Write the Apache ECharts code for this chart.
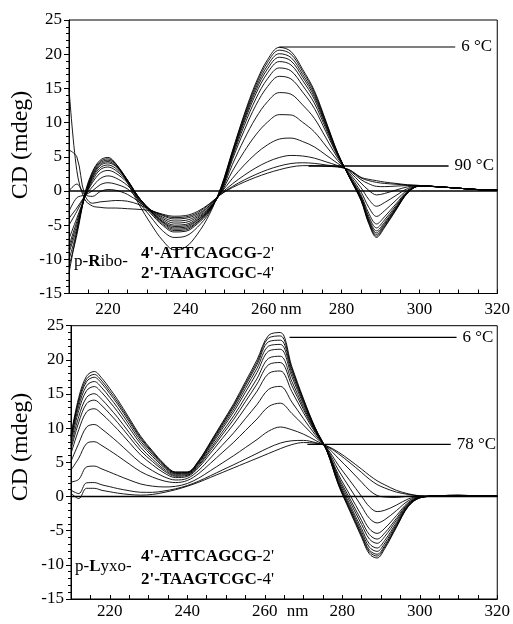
<!DOCTYPE html>
<html><head><meta charset="utf-8">
<script src="https://cdn.jsdelivr.net/npm/echarts@6/dist/echarts.min.js"></script>
<style>html,body{margin:0;padding:0;background:#fff}#c{width:513px;height:624px}</style>
</head><body><div id="c"></div>
<script>
// wavelengths (nm) at which every curve is sampled
const wavelengths = [210,212,214,216,218,220,222,225,228,231,234,237,240,243,246,249,252,255,258,261,264,267,270,273,276,279,282,285,287,289,291,294,297,300,305,310,315,320];

// ---- p-Ribo duplex, CD (mdeg), 6 °C (01) ... 90 °C (13)
const ribo01 = [-12,-6,-0.5,2.8,4.5,4.9,4.0,1.2,-2.0,-4.8,-7.2,-8.6,-8.2,-6.3,-3.5,0.5,5.9,11.2,15.8,19.2,21.0,20.4,17.8,14.7,10.2,5.6,2.0,-1.4,-4.8,-6.8,-5.4,-2.8,-0.3,0.7,0.6,0.4,0.2,0.1];
const ribo02 = [-11,-6.5,-0.8,2.6,4.3,4.7,4.0,1.5,-1.6,-3.8,-5.8,-6.8,-6.6,-5.3,-3.2,0.4,5.78,10.97,15.48,18.82,20.59,20.01,17.48,14.45,10.05,5.55,2.03,-1.32,-4.65,-6.61,-5.25,-2.71,-0.27,0.7,0.6,0.4,0.2,0.1];
const ribo03 = [-10,-6,-0.8,2.4,4.1,4.5,3.9,1.6,-1.3,-3.3,-5.0,-6.0,-5.9,-4.8,-3.0,0.3,5.62,10.69,15.08,18.34,20.07,19.52,17.07,14.13,9.86,5.49,2.06,-1.22,-4.46,-6.37,-5.05,-2.60,-0.24,0.7,0.6,0.4,0.2,0.1];
const ribo04 = [-9,-5.5,-0.9,2.2,3.9,4.3,3.7,1.6,-1.1,-3.1,-4.8,-5.8,-5.7,-4.6,-2.9,0.2,5.46,10.40,14.68,17.86,19.55,19.03,16.66,13.81,9.67,5.43,2.09,-1.12,-4.27,-6.13,-4.86,-2.48,-0.2,0.72,0.6,0.4,0.2,0.1];
const ribo05 = [-8.5,-5,-1,2.0,3.7,4.1,3.6,1.6,-1.0,-3.0,-4.6,-5.6,-5.5,-4.5,-2.8,0.1,5.27,10.05,14.20,17.27,18.92,18.44,16.16,13.42,9.43,5.36,2.13,-1.01,-4.05,-5.84,-4.62,-2.35,-0.16,0.72,0.6,0.4,0.2,0.1];
const ribo06 = [-8,-4.5,-1,1.8,3.4,3.8,3.3,1.5,-1.0,-3.0,-4.5,-5.4,-5.3,-4.3,-2.7,0.0,4.99,9.54,13.48,16.41,17.99,17.56,15.43,12.85,9.09,5.25,2.18,-0.83,-3.71,-5.41,-4.27,-2.14,-0.1,0.73,0.6,0.4,0.2,0.1];
const ribo07 = [-7,-4,-1,1.5,3.1,3.5,3.0,1.4,-1.0,-2.9,-4.4,-5.2,-5.1,-4.2,-2.7,-0.1,4.62,8.85,12.53,15.27,16.76,16.39,14.46,12.09,8.64,5.10,2.26,-0.59,-3.26,-4.83,-3.81,-1.88,-0.02,0.74,0.6,0.4,0.2,0.1];
const ribo08 = [-5,-3,-0.8,1.2,2.6,3.0,2.6,1.2,-1.0,-2.9,-4.2,-5.0,-4.9,-4.0,-2.6,-0.2,3.90,7.54,10.69,13.06,14.38,14.15,12.58,10.63,7.76,4.82,2.41,-0.14,-2.40,-3.73,-2.92,-1.36,0.14,0.75,0.6,0.4,0.2,0.1];
const ribo09 = [-4,-2.5,-0.8,0.6,1.8,2.2,1.9,0.8,-1.1,-2.8,-4.0,-4.7,-4.6,-3.8,-2.5,-0.3,2.93,5.76,8.21,10.07,11.16,11.11,10.05,8.65,6.57,4.45,2.61,0.47,-1.23,-2.24,-1.72,-0.66,0.36,0.76,0.6,0.4,0.2,0.1];
const ribo10 = [-3,-1,-0.6,0.0,0.9,1.2,1.0,0.3,-1.3,-2.8,-3.8,-4.4,-4.3,-3.6,-2.3,-0.3,1.85,3.78,5.45,6.75,7.58,7.73,7.23,6.45,5.25,4.03,2.83,1.15,0.08,-0.58,-0.38,0.13,0.6,0.78,0.6,0.4,0.2,0.1];
const ribo11 = [0,1,-0.5,-0.8,-0.1,0.2,0.1,-0.5,-1.6,-2.8,-3.6,-4.1,-4.0,-3.4,-2.2,-0.4,1.04,2.29,3.38,4.26,4.89,5.19,5.11,4.80,4.26,3.71,2.99,1.66,1.05,0.67,0.63,0.71,0.78,0.79,0.6,0.4,0.2,0.1];
const ribo12 = [6,5,-0.5,-1.8,-1.6,-1.5,-1.4,-1.5,-2.0,-2.8,-3.5,-3.9,-3.8,-3.2,-2.0,-0.5,0.66,1.60,2.41,3.10,3.64,4.01,4.12,4.03,3.80,3.56,3.07,1.90,1.51,1.25,1.10,0.98,0.86,0.8,0.6,0.4,0.2,0.1];
const ribo13 = [15,3,-1.2,-2.2,-2.4,-2.5,-2.5,-2.6,-2.7,-2.9,-3.4,-3.7,-3.6,-3.0,-1.9,-0.5,0.5,1.3,2.0,2.6,3.1,3.5,3.7,3.7,3.6,3.5,3.1,2.0,1.7,1.5,1.3,1.1,0.9,0.8,0.6,0.4,0.2,0.1];

// ---- p-Lyxo duplex, CD (mdeg), 6 °C (01) ... 78 °C (13)
const lyxo01 = [9,14.5,17.6,18.3,17.3,15.8,14.2,11.5,8.8,6.7,4.8,3.6,3.6,5.3,8.0,10.8,13.6,16.8,20.0,23.6,24.0,19.0,14.3,10.1,6.7,1.7,-2.2,-6.0,-8.4,-9.0,-7.6,-4.5,-1.5,-0.2,0.1,0.2,0.1,0.1];
const lyxo02 = [8.79,14.13,17.19,17.87,16.89,15.42,13.86,11.22,8.59,6.54,4.70,3.54,3.55,5.22,7.87,10.62,13.37,16.50,19.64,23.2,23.5,18.72,14.14,10.04,6.72,1.82,-2.01,-5.75,-8.11,-8.72,-7.37,-4.37,-1.45,-0.2,0.1,0.2,0.1,0.1];
const lyxo03 = [8.58,13.77,16.80,17.46,16.50,15.06,13.53,10.95,8.38,6.39,4.59,3.47,3.50,5.14,7.75,10.44,13.14,16.22,19.29,22.66,22.88,18.44,13.99,9.99,6.73,1.94,-1.83,-5.51,-7.84,-8.45,-7.14,-4.24,-1.41,-0.18,0.1,0.15,0.1,0.05];
const lyxo04 = [8.27,13.23,16.19,16.83,15.89,14.50,13.02,10.54,8.06,6.15,4.44,3.38,3.42,5.02,7.55,10.17,12.79,15.78,18.76,22.02,22.26,18.02,13.75,9.90,6.76,2.11,-1.56,-5.14,-7.41,-8.03,-6.80,-4.04,-1.34,-0.17,0.1,0.15,0.1,0.05];
const lyxo05 = [7.90,12.59,15.48,16.09,15.18,13.85,12.43,10.06,7.69,5.87,4.26,3.26,3.33,4.89,7.33,9.86,12.39,15.26,18.14,21.28,21.55,17.53,13.47,9.80,6.79,2.32,-1.23,-4.71,-6.92,-7.54,-6.40,-3.80,-1.25,-0.15,0.1,0.1,0.1,0.05];
const lyxo06 = [7.39,11.69,14.48,15.05,14.18,12.93,11.60,9.37,7.17,5.48,4.0,3.11,3.20,4.69,7.01,9.41,11.81,14.54,17.26,20.23,20.53,16.83,13.08,9.66,6.83,2.61,-0.78,-4.1,-6.22,-6.85,-5.83,-3.47,-1.14,-0.14,0.05,0.1,0.05,0.05];
const lyxo07 = [6.92,10.87,13.58,14.11,13.28,12.10,10.84,8.76,6.69,5.13,3.77,2.96,3.09,4.52,6.73,9.01,11.30,13.88,16.47,19.29,19.61,16.21,12.73,9.54,6.87,2.88,-0.36,-3.55,-5.58,-6.23,-5.32,-3.18,-1.03,-0.12,0.05,0.1,0.05,0.0];
const lyxo08 = [6.29,9.78,12.37,12.85,12.07,10.98,9.83,7.93,6.06,4.66,3.46,2.77,2.93,4.28,6.34,8.47,10.60,13.0,15.41,18.01,18.37,15.36,12.26,9.37,6.92,3.23,0.19,-2.81,-4.73,-5.40,-4.63,-2.78,-0.89,-0.1,0.05,0.05,0.05,0.0];
const lyxo09 = [5.14,7.78,10.15,10.54,9.85,8.94,7.98,6.42,4.90,3.79,2.89,2.42,2.65,3.85,5.64,7.49,9.33,11.40,13.46,15.69,16.12,13.82,11.39,9.06,7.02,3.88,1.21,-1.46,-3.18,-3.87,-3.38,-2.05,-0.64,-0.05,0.05,0.05,0.0,0.0];
const lyxo10 = [3.89,5.61,7.74,8.02,7.44,6.72,5.97,4.77,3.63,2.85,2.28,2.04,2.34,3.38,4.87,6.41,7.95,9.65,11.35,13.16,13.66,12.15,10.45,8.72,7.12,4.58,2.31,0.01,-1.49,-2.21,-2.01,-1.25,-0.36,0.0,0.05,0.0,0.0,0.0];
const lyxo11 = [2.12,2.51,4.32,4.45,4.02,3.57,3.10,2.43,1.83,1.52,1.40,1.49,1.90,2.71,3.79,4.89,5.99,7.16,8.34,9.57,10.17,9.77,9.12,8.24,7.27,5.59,3.88,2.1,0.92,0.15,-0.07,-0.13,0.04,0.05,0.0,0.0,0.0,0.0];
const lyxo12 = [0.92,0.43,2.0,2.04,1.70,1.44,1.17,0.85,0.62,0.61,0.81,1.13,1.60,2.26,3.05,3.86,4.66,5.48,6.31,7.14,7.82,8.16,8.21,7.91,7.37,6.26,4.93,3.51,2.54,1.75,1.24,0.64,0.31,0.1,0.0,0.0,0.0,0.0];
const lyxo13 = [0.5,-0.3,1.2,1.2,0.9,0.7,0.5,0.3,0.2,0.3,0.6,1.0,1.5,2.1,2.8,3.5,4.2,4.9,5.6,6.3,7.0,7.6,7.9,7.8,7.4,6.5,5.3,4.0,3.1,2.3,1.7,0.9,0.4,0.1,0.0,0.0,0.0,0.0];

// annotation leader lines [nm, mdeg]
const ribo6Lead  = [[264, 21.05], [309.2, 21.05]];
const ribo90Lead = [[271.5, 3.65], [307.5, 3.65]];
const lyxo6Lead  = [[266.4, 23.3], [309.5, 23.3]];
const lyxo78Lead = [[271, 7.64], [308, 7.64]];
const zeroLine   = [[210, 0], [320, 0]];

// axis ticks / labels
const xTickValues = [210,215,220,225,230,235,240,245,250,255,260,265,270,275,280,285,290,295,300,305,310,315,320];
const xLabelsTop  = [220,240,260,267,280,300,320];
const xLabelsBot  = [220,240,260,268.5,280,300,320];
const yMin = -15, yMax = 25, yStep = 5;

const riboCurves = [ribo01,ribo02,ribo03,ribo04,ribo05,ribo06,ribo07,ribo08,ribo09,ribo10,ribo11,ribo12,ribo13];
const lyxoCurves = [lyxo01,lyxo02,lyxo03,lyxo04,lyxo05,lyxo06,lyxo07,lyxo08,lyxo09,lyxo10,lyxo11,lyxo12,lyxo13];

const FONT = '"Liberation Serif", "Times New Roman", serif';

function xAx(gi, labels, margin) {
  return {
    type: 'value', gridIndex: gi, min: 210, max: 320,
    axisLine: { show: true, onZero: false, lineStyle: { color: '#000', width: 1 } },
    axisTick: { show: true, inside: true, length: 4, customValues: xTickValues, lineStyle: { color: '#000', width: 1 } },
    axisLabel: { show: true, customValues: labels, margin: margin, color: '#000', fontFamily: FONT, fontSize: 17,
      formatter: v => (v === 267 || v === 268.5) ? 'nm' : String(v) },
    splitLine: { show: false }
  };
}
function yAx(gi) {
  return {
    type: 'value', gridIndex: gi, min: yMin, max: yMax, interval: yStep,
    axisLine: { show: true, onZero: false, lineStyle: { color: '#000', width: 1 } },
    axisTick: { show: true, inside: false, length: 5, lineStyle: { color: '#000', width: 1 } },
    minorTick: { show: true, splitNumber: 5, length: 3, lineStyle: { color: '#000', width: 1 } },
    axisLabel: { margin: 7, color: '#000', fontFamily: FONT, fontSize: 17 },
    splitLine: { show: false }
  };
}
function curveSeries(curves, gi) {
  return curves.map(c => ({
    type: 'line', xAxisIndex: gi, yAxisIndex: gi, silent: true,
    data: wavelengths.map((w, i) => [w, c[i]]),
    showSymbol: false, smooth: 0.35,
    lineStyle: { color: '#000', width: 0.9 }
  }));
}
function leadSeries(data, gi, text, w) {
  return {
    type: 'line', xAxisIndex: gi, yAxisIndex: gi, silent: true, data: data,
    showSymbol: false, lineStyle: { color: '#000', width: w },
    endLabel: { show: true, formatter: text, distance: 6, color: '#000', fontFamily: FONT, fontSize: 17 }
  };
}
function zeroSeries(gi) {
  return { type: 'line', xAxisIndex: gi, yAxisIndex: gi, silent: true, data: zeroLine,
    showSymbol: false, lineStyle: { color: '#000', width: 1.4 } };
}
function seqText(x, y, parts) {
  return { type: 'text', x: x, y: y, silent: true,
    style: { text: parts, verticalAlign: 'middle', align: 'left',
      rich: {
        n: { fontFamily: FONT, fontSize: 17, fill: '#000' },
        b: { fontFamily: FONT, fontSize: 17, fontWeight: 'bold', fill: '#000' }
      } } };
}

const chart = echarts.init(document.getElementById('c'), null, { renderer: 'canvas' });
chart.setOption({
  animation: false,
  backgroundColor: '#fff',
  grid: [
    { left: 69, top: 20, width: 434.5, height: 273.5, show: true, borderColor: '#000', borderWidth: 1, containLabel: false },
    { left: 71, top: 325.7, width: 433, height: 273.3, show: true, borderColor: '#000', borderWidth: 1, containLabel: false }
  ],
  xAxis: [xAx(0, xLabelsTop, 8), xAx(1, xLabelsBot, 4)],
  yAxis: [yAx(0), yAx(1)],
  series: [].concat(
    [zeroSeries(0), zeroSeries(1)],
    curveSeries(riboCurves, 0),
    curveSeries(lyxoCurves, 1),
    [leadSeries(ribo6Lead, 0, '6 °C', 1.2), leadSeries(ribo90Lead, 0, '90 °C', 1.6),
     leadSeries(lyxo6Lead, 1, '6 °C', 1.2), leadSeries(lyxo78Lead, 1, '78 °C', 1.2)]
  ),
  graphic: [
    { type: 'text', x: 21, y: 145, rotation: Math.PI / 2, silent: true,
      style: { text: 'CD (mdeg)', fontFamily: FONT, fontSize: 24, fill: '#000', align: 'center', verticalAlign: 'middle' } },
    { type: 'text', x: 21, y: 447, rotation: Math.PI / 2, silent: true,
      style: { text: 'CD (mdeg)', fontFamily: FONT, fontSize: 24, fill: '#000', align: 'center', verticalAlign: 'middle' } },
    seqText(74, 262, '{n|p-}{b|R}{n|ibo-}'),
    seqText(141, 254, "{b|4'-ATTCAGCG}{n|-2'}"),
    seqText(141, 274, "{b|2'-TAAGTCGC}{n|-4'}"),
    seqText(75, 567, '{n|p-}{b|L}{n|yxo-}'),
    seqText(141, 557, "{b|4'-ATTCAGCG}{n|-2'}"),
    seqText(141, 580, "{b|2'-TAAGTCGC}{n|-4'}")
  ]
});
</script></body></html>
